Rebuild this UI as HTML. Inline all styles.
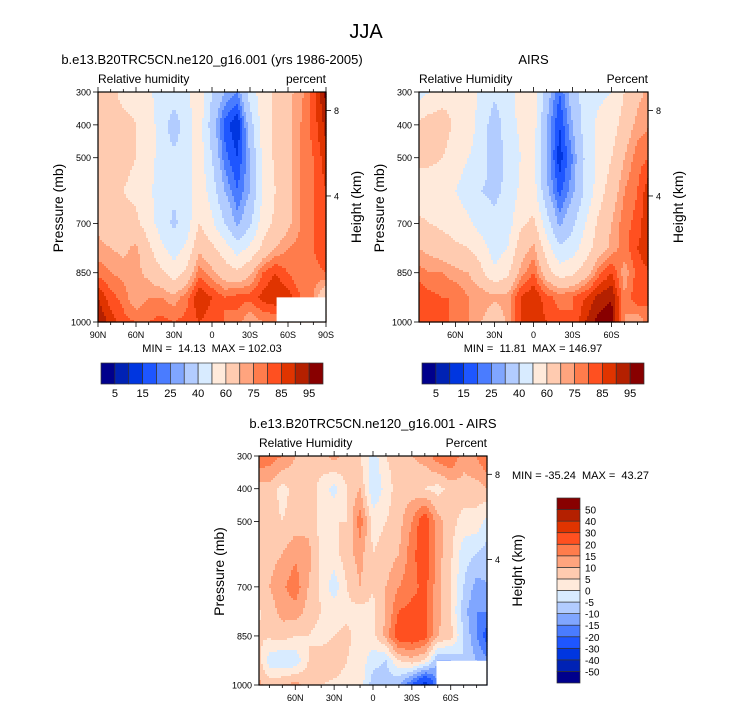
<!DOCTYPE html>
<html><head><meta charset="utf-8">
<style>
html,body{margin:0;padding:0;background:#fff;}
svg{display:block;font-family:"Liberation Sans",sans-serif;}
text{white-space:pre;}
</style></head>
<body>
<svg id="chart" width="733" height="709" viewBox="0 0 733 709">
<text x="366" y="38" font-size="20" text-anchor="middle">JJA</text>
<g id="p1"></g>
<g id="p2"></g>
<g id="p3"></g>
</svg>
<script>
// ---- data ----
const lats = [90,80,70,60,50,40,30,20,10,0,-10,-20,-30,-40,-50,-60,-70,-80,-90];
const pressures = [300,400,500,600,700,775,850,925,1000];
const rhLevels = [5,10,15,20,25,30,40,50,60,70,75,80,85,90,95];
const rhColors = ["#00008c","#0022b4","#0036e0","#1e56ff","#4a7cff","#80a6ff","#b2ccff","#d8ebff","#ffeadb","#ffcbb0","#ffa47e","#ff7c4c","#ff5020","#e03400","#b42000","#880000"];
const rhTickLabels = ["5","15","25","40","60","75","85","95"];
const diffLevels = [-50,-40,-30,-20,-15,-10,-5,0,5,10,15,20,30,40,50];
const diffColors = ["#00008c","#0022b4","#0036e0","#1e56ff","#4a7cff","#80a6ff","#b2ccff","#d8ebff","#ffeadb","#ffcbb0","#ffa47e","#ff7c4c","#ff5020","#e03400","#b42000","#880000"];
const diffTickLabels = ["-50","-40","-30","-20","-15","-10","-5","0","5","10","15","20","30","40","50"];
const modelRH = [
 [65,62,58,58,52,45,45,48,58,40,30,25,45,55,62,68,73,82,97],
 [63,62,62,60,55,45,35,45,55,35,18,10,35,55,62,68,75,82,92],
 [65,63,62,60,55,45,42,45,55,40,22,15,30,52,62,68,75,80,88],
 [65,63,60,58,52,45,42,45,57,45,30,20,30,50,60,68,75,80,85],
 [68,65,62,62,55,45,38,45,60,52,40,28,38,55,62,68,75,80,85],
 [72,70,68,72,62,52,45,52,68,62,55,45,52,62,70,75,77,80,85],
 [78,75,73,72,68,62,55,62,78,72,65,62,68,80,85,80,75,78,80],
 [90,82,78,70,75,75,72,78,90,85,80,82,82,87,90,88,80,75,60],
 [95,88,82,80,80,82,80,82,85,82,80,78,70,75,75,75,75,75,75]
];
const airsRH = [
 [45,50,55,58,55,48,42,45,55,55,35,20,35,45,48,50,60,68,72],
 [62,65,65,58,55,45,35,45,52,55,30,15,30,45,52,55,65,72,75],
 [62,62,60,55,50,45,35,42,50,52,30,12,25,42,52,60,70,78,80],
 [55,55,55,50,45,40,38,42,52,55,32,18,28,42,55,65,75,80,90],
 [62,60,58,55,52,45,42,45,58,62,45,28,38,50,62,70,78,82,92],
 [70,68,65,62,60,55,45,50,65,72,55,42,45,55,65,72,78,85,90],
 [78,75,75,72,70,62,52,58,72,80,65,55,58,65,78,85,72,82,85],
 [85,82,80,80,75,75,72,72,85,90,82,78,80,85,92,95,75,85,80],
 [85,80,82,78,75,70,62,72,85,88,85,82,80,90,97,97,75,70,80]
];
const diffRH = [
 [20,18,15,10,8,8,12,8,5,-3,5,8,10,12,18,20,12,15,22],
 [8,8,3,7,8,3,-2,5,10,-5,2,8,7,5,3,7,8,8,10],
 [6,7,5,7,8,3,5,5,18,3,5,8,15,25,12,7,3,3,-3],
 [6,8,10,14,12,4,3,8,12,5,7,10,18,25,12,6,-3,-5,-8],
 [7,10,14,18,10,4,-3,5,10,5,10,15,18,22,12,5,-5,-12,-10],
 [4,7,12,13,8,5,3,4,3,4,10,20,22,22,12,5,-8,-15,-15],
 [5,6,7,5,5,3,5,6,3,3,12,25,25,22,10,7,-5,-15,-25],
 [10,-3,-5,-4,5,8,8,5,3,-3,-5,5,8,5,-10,-10,-5,-10,-15],
 [12,8,10,12,8,5,4,3,3,-8,-8,-10,-20,-35,-15,-15,-15,-15,-15]
];
const latTicks = [90,60,30,0,-30,-60,-90];
const latTickLabels = ["90N","60N","30N","0","30S","60S","90S"];
const pTicks = [300,400,500,700,850,1000];
const heightTicks = [8,4];

// ---- helpers ----
const NS="http://www.w3.org/2000/svg";
function mk(parent,tag,attrs,text){const e=document.createElementNS(NS,tag);for(const k in attrs)e.setAttribute(k,attrs[k]);if(text!==undefined)e.textContent=text;parent.appendChild(e);return e;}
function colorIndex(v,levels){let i=0;while(i<levels.length&&v>=levels[i])i++;return i;}
function sample(grid,lat,p){
  let j=0;while(j<lats.length-2&&lat<lats[j+1])j++;
  let tx=(lats[j]-lat)/(lats[j]-lats[j+1]);tx=Math.max(0,Math.min(1,tx));
  let i=0;while(i<pressures.length-2&&p>pressures[i+1])i++;
  let ty=(p-pressures[i])/(pressures[i+1]-pressures[i]);ty=Math.max(0,Math.min(1,ty));
  const a=grid[i][j],b=grid[i][j+1],c=grid[i+1][j],d=grid[i+1][j+1];
  return (a*(1-tx)+b*tx)*(1-ty)+(c*(1-tx)+d*tx)*ty;
}
function heightToP(z){return 1013.25*Math.pow(1-2.25577e-5*z*1000,5.25588);}

function panel(g,cfg){
  const {x0,y0,w,h,latMax,grid,levels,colors,mask}=cfg;
  const xS=lat=>x0+(latMax-lat)/(2*latMax)*w;
  const yS=p=>y0+(p-300)/700*h;
  const step=2;
  const field=mk(g,'g',{});
  
  
  for(let py=0;py<h;py+=step){
    const p=300+(py+step/2)/h*700;
    let runStart=0,runC=-1;
    const hh=Math.min(step,h-py);
    const emit=(endX)=>{
      if(runC<0)return;
      const r=mk(field,'rect',{x:x0+runStart,y:y0+py,width:Math.min(endX,w)-runStart+0.6,height:hh+0.6,fill:colors[runC]});
      
      
    };
    for(let px=0;px<w;px+=step){
      const lat=latMax-(Math.min(px+step/2,w))/w*2*latMax;
      const c=colorIndex(sample(grid,lat,p),levels);
      if(c!==runC){emit(px);runStart=px;runC=c;}
    }
    emit(w);
  }
  if(mask){
    const m=mk(g,'rect',{x:xS(mask.lat),y:yS(mask.p),width:x0+w-xS(mask.lat),height:y0+h-yS(mask.p),fill:'#fff'});
    
  }
  const f=mk(g,'rect',{x:x0,y:y0,width:w,height:h,fill:'none',stroke:'#000','stroke-width':1.2});
  
  for(let lat=-90;lat<=90;lat+=10){
    if(Math.abs(lat)>latMax+0.01)continue;
    const x=xS(lat);const major=lat%30===0;const L=major?5:3;
    mk(g,'line',{x1:x,y1:y0+h,x2:x,y2:y0+h+L,stroke:'#000','stroke-width':0.8});
    mk(g,'line',{x1:x,y1:y0,x2:x,y2:y0-L,stroke:'#000','stroke-width':0.8});
  }
  latTicks.forEach((lat,k)=>{
    if(Math.abs(lat)>latMax+0.01)return;
    const t=mk(g,'text',{x:xS(lat),y:y0+h+16,'font-size':9,'text-anchor':'middle'},latTickLabels[k]);
    
  });
  for(let p=300;p<=1000;p+=50){
    const y=yS(p);const major=pTicks.includes(p);
    mk(g,'line',{x1:x0,y1:y,x2:x0-(major?5:0),y2:y,stroke:'#000','stroke-width':0.8});
  }
  pTicks.forEach(p=>{
    const t=mk(g,'text',{x:x0-7,y:yS(p)+3.5,'font-size':9,'text-anchor':'end'},String(p));
    
  });
  heightTicks.forEach(z=>{
    const y=yS(heightToP(z));
    mk(g,'line',{x1:x0+w,y1:y,x2:x0+w+5,y2:y,stroke:'#000','stroke-width':0.8});
    const t=mk(g,'text',{x:x0+w+8,y:y+3.5,'font-size':9},String(z));
    
  });
  const yl=mk(g,'text',{x:0,y:0,'font-size':14,'text-anchor':'middle',transform:`translate(${x0-35},${y0+h/2+1}) rotate(-90)`},'Pressure (mb)');
  
  const hl=mk(g,'text',{x:0,y:0,'font-size':14,'text-anchor':'middle',transform:`translate(${x0+w+35},${y0+h/2}) rotate(-90)`},'Height (km)');
  
  const tl=mk(g,'text',{x:x0,y:y0-9,'font-size':12},cfg.left);
  
  const tr=mk(g,'text',{x:x0+w,y:y0-9,'font-size':12,'text-anchor':'end'},cfg.right);
  
  const tt=mk(g,'text',{x:x0+w/2,y:y0-28,'font-size':13,'text-anchor':'middle'},cfg.title);
  
  const mm=mk(g,'text',{x:cfg.mmx,y:cfg.mmy,'font-size':11,'text-anchor':cfg.mmAnchor},cfg.minmax);
  
}

function hColorbar(g,x0,y0,w,h){
  const n=rhColors.length,bw=w/n;
  const cb=mk(g,'g',{});
  
  rhColors.forEach((c,i)=>{
    const r=mk(cb,'rect',{x:x0+i*bw,y:y0,width:bw,height:h,fill:c,stroke:'#333','stroke-width':0.7});
    
  });
  rhTickLabels.forEach((lab,k)=>{
    const t=mk(cb,'text',{x:x0+(2*k+1)*bw,y:y0+h+13,'font-size':11,'text-anchor':'middle'},lab);
    
  });
}
function vColorbar(g,x0,y0,w,h){
  const n=diffColors.length,bh=h/n;
  const cb=mk(g,'g',{});
  
  diffColors.forEach((c,i)=>{
    const r=mk(cb,'rect',{x:x0,y:y0+(n-1-i)*bh,width:w,height:bh,fill:c,stroke:'#333','stroke-width':0.7});
    
  });
  diffTickLabels.forEach((lab,k)=>{
    const t=mk(cb,'text',{x:x0+w+5,y:y0+(n-1-k)*bh+4,'font-size':10},lab);
    
  });
}

panel(document.getElementById('p1'),{x0:98,y0:92,w:228,h:230,latMax:90,grid:modelRH,levels:rhLevels,colors:rhColors,
  mask:{lat:-51,p:925},left:'Relative humidity',right:'percent',title:'b.e13.B20TRC5CN.ne120_g16.001 (yrs 1986-2005)',
  minmax:'MIN =  14.13  MAX = 102.03',mmx:212,mmy:352,mmAnchor:'middle'});
hColorbar(document.getElementById('p1'),101,363,222,21);
panel(document.getElementById('p2'),{x0:419,y0:92,w:229,h:230,latMax:88,grid:airsRH,levels:rhLevels,colors:rhColors,
  mask:null,left:'Relative Humidity',right:'Percent',title:'AIRS',
  minmax:'MIN =  11.81  MAX = 146.97',mmx:533,mmy:352,mmAnchor:'middle'});
hColorbar(document.getElementById('p2'),422,363,222,21);
panel(document.getElementById('p3'),{x0:259,y0:456,w:228,h:229,latMax:88,grid:diffRH,levels:diffLevels,colors:diffColors,
  mask:{lat:-49,p:926},left:'Relative Humidity',right:'Percent',title:'b.e13.B20TRC5CN.ne120_g16.001 - AIRS',
  minmax:'MIN = -35.24  MAX =  43.27',mmx:512,mmy:479,mmAnchor:'start'});
vColorbar(document.getElementById('p3'),557,498,23,185);
</script>
</body></html>
